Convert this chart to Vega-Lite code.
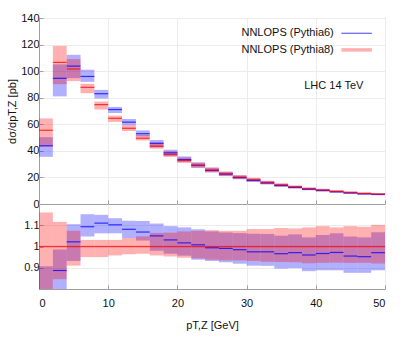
{
  "$schema": "https://vega.github.io/schema/vega-lite/v6.json",
  "autosize": {"type": "pad"},
  "padding": {"left": 6, "top": 11, "right": 5, "bottom": 5},
  "spacing": 0,
  "bounds": "flush",
  "config": {
    "font": "Liberation Sans",
    "view": {"stroke": "#a0a0a0", "strokeWidth": 1},
    "axis": {
      "labelFontSize": 11, "labelColor": "#111", "labelFont": "Liberation Sans",
      "titleFontSize": 11, "titleFontWeight": "normal", "titleColor": "#111", "titleFont": "Liberation Sans",
      "gridColor": "#ececec", "gridWidth": 1, "domainColor": "#a0a0a0", "tickColor": "#a0a0a0",
      "tickSize": -4, "labelPadding": 4, "labelOverlap": false
    }
  },
  "datasets": {
    "d": [
      {"series": "NNLOPS (Pythia6)", "x0": 0, "x1": 2, "c": 43.8, "lo": 35.5, "hi": 50.3, "rc": 0.79, "rlo": 0.64, "rhi": 0.907},
      {"series": "NNLOPS (Pythia6)", "x0": 2, "x1": 4, "c": 94.6, "lo": 81.0, "hi": 105.1, "rc": 0.887, "rlo": 0.76, "rhi": 0.986},
      {"series": "NNLOPS (Pythia6)", "x0": 4, "x1": 6, "c": 103.8, "lo": 94.7, "hi": 112.3, "rc": 1.022, "rlo": 0.932, "rhi": 1.105},
      {"series": "NNLOPS (Pythia6)", "x0": 6, "x1": 8, "c": 96.0, "lo": 91.9, "hi": 101.1, "rc": 1.093, "rlo": 1.047, "rhi": 1.152},
      {"series": "NNLOPS (Pythia6)", "x0": 8, "x1": 10, "c": 83.0, "lo": 79.4, "hi": 85.9, "rc": 1.110, "rlo": 1.062, "rhi": 1.149},
      {"series": "NNLOPS (Pythia6)", "x0": 10, "x1": 12, "c": 71.1, "lo": 68.5, "hi": 73.1, "rc": 1.102, "rlo": 1.062, "rhi": 1.133},
      {"series": "NNLOPS (Pythia6)", "x0": 12, "x1": 14, "c": 61.6, "lo": 59.3, "hi": 63.9, "rc": 1.081, "rlo": 1.040, "rhi": 1.121},
      {"series": "NNLOPS (Pythia6)", "x0": 14, "x1": 16, "c": 52.9, "lo": 50.9, "hi": 55.4, "rc": 1.068, "rlo": 1.028, "rhi": 1.120},
      {"series": "NNLOPS (Pythia6)", "x0": 16, "x1": 18, "c": 45.7, "lo": 42.6, "hi": 48.2, "rc": 1.050, "rlo": 0.980, "rhi": 1.108},
      {"series": "NNLOPS (Pythia6)", "x0": 18, "x1": 20, "c": 38.5, "lo": 36.0, "hi": 40.9, "rc": 1.031, "rlo": 0.966, "rhi": 1.096},
      {"series": "NNLOPS (Pythia6)", "x0": 20, "x1": 22, "c": 33.4, "lo": 31.4, "hi": 35.8, "rc": 1.017, "rlo": 0.957, "rhi": 1.090},
      {"series": "NNLOPS (Pythia6)", "x0": 22, "x1": 24, "c": 29.2, "lo": 27.2, "hi": 31.3, "rc": 1.008, "rlo": 0.938, "rhi": 1.081},
      {"series": "NNLOPS (Pythia6)", "x0": 24, "x1": 26, "c": 25.3, "lo": 23.8, "hi": 27.3, "rc": 0.994, "rlo": 0.932, "rhi": 1.071},
      {"series": "NNLOPS (Pythia6)", "x0": 26, "x1": 28, "c": 22.5, "lo": 21.0, "hi": 24.2, "rc": 0.991, "rlo": 0.926, "rhi": 1.066},
      {"series": "NNLOPS (Pythia6)", "x0": 28, "x1": 30, "c": 19.9, "lo": 18.6, "hi": 21.5, "rc": 0.985, "rlo": 0.919, "rhi": 1.063},
      {"series": "NNLOPS (Pythia6)", "x0": 30, "x1": 32, "c": 17.7, "lo": 16.6, "hi": 19.3, "rc": 0.975, "rlo": 0.910, "rhi": 1.060},
      {"series": "NNLOPS (Pythia6)", "x0": 32, "x1": 34, "c": 15.8, "lo": 14.7, "hi": 17.2, "rc": 0.975, "rlo": 0.909, "rhi": 1.059},
      {"series": "NNLOPS (Pythia6)", "x0": 34, "x1": 36, "c": 13.9, "lo": 12.9, "hi": 15.1, "rc": 0.966, "rlo": 0.896, "rhi": 1.051},
      {"series": "NNLOPS (Pythia6)", "x0": 36, "x1": 38, "c": 12.5, "lo": 11.6, "hi": 13.6, "rc": 0.971, "rlo": 0.898, "rhi": 1.057},
      {"series": "NNLOPS (Pythia6)", "x0": 38, "x1": 40, "c": 11.1, "lo": 10.3, "hi": 12.1, "rc": 0.960, "rlo": 0.884, "rhi": 1.043},
      {"series": "NNLOPS (Pythia6)", "x0": 40, "x1": 42, "c": 10.2, "lo": 9.3, "hi": 11.1, "rc": 0.967, "rlo": 0.888, "rhi": 1.054},
      {"series": "NNLOPS (Pythia6)", "x0": 42, "x1": 44, "c": 9.2, "lo": 8.4, "hi": 10.1, "rc": 0.972, "rlo": 0.888, "rhi": 1.062},
      {"series": "NNLOPS (Pythia6)", "x0": 44, "x1": 46, "c": 8.3, "lo": 7.6, "hi": 9.1, "rc": 0.955, "rlo": 0.876, "rhi": 1.047},
      {"series": "NNLOPS (Pythia6)", "x0": 46, "x1": 48, "c": 7.6, "lo": 7.0, "hi": 8.3, "rc": 0.952, "rlo": 0.876, "rhi": 1.043},
      {"series": "NNLOPS (Pythia6)", "x0": 48, "x1": 50, "c": 7.2, "lo": 6.6, "hi": 7.9, "rc": 0.971, "rlo": 0.888, "rhi": 1.067},
      {"series": "NNLOPS (Pythia8)", "x0": 0, "x1": 2, "c": 55.5, "lo": 43.3, "hi": 64.4, "rc": 1, "rlo": 0.78, "rhi": 1.16},
      {"series": "NNLOPS (Pythia8)", "x0": 2, "x1": 4, "c": 106.6, "lo": 90.2, "hi": 119.0, "rc": 1, "rlo": 0.846, "rhi": 1.116},
      {"series": "NNLOPS (Pythia8)", "x0": 4, "x1": 6, "c": 101.6, "lo": 92.5, "hi": 109.1, "rc": 1, "rlo": 0.910, "rhi": 1.074},
      {"series": "NNLOPS (Pythia8)", "x0": 6, "x1": 8, "c": 87.8, "lo": 83.4, "hi": 90.5, "rc": 1, "rlo": 0.950, "rhi": 1.031},
      {"series": "NNLOPS (Pythia8)", "x0": 8, "x1": 10, "c": 74.8, "lo": 71.1, "hi": 77.1, "rc": 1, "rlo": 0.950, "rhi": 1.031},
      {"series": "NNLOPS (Pythia8)", "x0": 10, "x1": 12, "c": 64.5, "lo": 61.8, "hi": 66.5, "rc": 1, "rlo": 0.958, "rhi": 1.031},
      {"series": "NNLOPS (Pythia8)", "x0": 12, "x1": 14, "c": 57.0, "lo": 54.9, "hi": 59.3, "rc": 1, "rlo": 0.963, "rhi": 1.040},
      {"series": "NNLOPS (Pythia8)", "x0": 14, "x1": 16, "c": 49.5, "lo": 47.8, "hi": 51.9, "rc": 1, "rlo": 0.966, "rhi": 1.048},
      {"series": "NNLOPS (Pythia8)", "x0": 16, "x1": 18, "c": 43.5, "lo": 41.7, "hi": 46.3, "rc": 1, "rlo": 0.958, "rhi": 1.064},
      {"series": "NNLOPS (Pythia8)", "x0": 18, "x1": 20, "c": 37.3, "lo": 35.5, "hi": 39.7, "rc": 1, "rlo": 0.953, "rhi": 1.065},
      {"series": "NNLOPS (Pythia8)", "x0": 20, "x1": 22, "c": 32.8, "lo": 31.1, "hi": 35.1, "rc": 1, "rlo": 0.947, "rhi": 1.071},
      {"series": "NNLOPS (Pythia8)", "x0": 22, "x1": 24, "c": 29.0, "lo": 27.4, "hi": 31.1, "rc": 1, "rlo": 0.944, "rhi": 1.074},
      {"series": "NNLOPS (Pythia8)", "x0": 24, "x1": 26, "c": 25.5, "lo": 23.9, "hi": 27.5, "rc": 1, "rlo": 0.938, "rhi": 1.077},
      {"series": "NNLOPS (Pythia8)", "x0": 26, "x1": 28, "c": 22.7, "lo": 21.2, "hi": 24.4, "rc": 1, "rlo": 0.935, "rhi": 1.074},
      {"series": "NNLOPS (Pythia8)", "x0": 28, "x1": 30, "c": 20.2, "lo": 18.9, "hi": 21.7, "rc": 1, "rlo": 0.935, "rhi": 1.074},
      {"series": "NNLOPS (Pythia8)", "x0": 30, "x1": 32, "c": 18.2, "lo": 17.0, "hi": 19.7, "rc": 1, "rlo": 0.932, "rhi": 1.082},
      {"series": "NNLOPS (Pythia8)", "x0": 32, "x1": 34, "c": 16.2, "lo": 15.0, "hi": 17.5, "rc": 1, "rlo": 0.928, "rhi": 1.082},
      {"series": "NNLOPS (Pythia8)", "x0": 34, "x1": 36, "c": 14.4, "lo": 13.3, "hi": 15.7, "rc": 1, "rlo": 0.927, "rhi": 1.087},
      {"series": "NNLOPS (Pythia8)", "x0": 36, "x1": 38, "c": 12.9, "lo": 11.9, "hi": 14.0, "rc": 1, "rlo": 0.926, "rhi": 1.085},
      {"series": "NNLOPS (Pythia8)", "x0": 38, "x1": 40, "c": 11.6, "lo": 10.7, "hi": 12.6, "rc": 1, "rlo": 0.921, "rhi": 1.090},
      {"series": "NNLOPS (Pythia8)", "x0": 40, "x1": 42, "c": 10.5, "lo": 9.7, "hi": 11.5, "rc": 1, "rlo": 0.923, "rhi": 1.096},
      {"series": "NNLOPS (Pythia8)", "x0": 42, "x1": 44, "c": 9.5, "lo": 8.8, "hi": 10.4, "rc": 1, "rlo": 0.924, "rhi": 1.090},
      {"series": "NNLOPS (Pythia8)", "x0": 44, "x1": 46, "c": 8.7, "lo": 8.0, "hi": 9.5, "rc": 1, "rlo": 0.923, "rhi": 1.096},
      {"series": "NNLOPS (Pythia8)", "x0": 46, "x1": 48, "c": 8.0, "lo": 7.4, "hi": 8.7, "rc": 1, "rlo": 0.923, "rhi": 1.093},
      {"series": "NNLOPS (Pythia8)", "x0": 48, "x1": 50, "c": 7.4, "lo": 6.8, "hi": 8.2, "rc": 1, "rlo": 0.920, "rhi": 1.102}
    ]
  },
  "vconcat": [
    {
      "width": 346,
      "height": 186,
      "layer": [
        {
          "data": {"name": "d"},
          "mark": {"type": "rect", "opacity": 0.31},
          "encoding": {
            "x": {"field": "x0", "type": "quantitative", "scale": {"domain": [0, 50], "nice": false},
                  "axis": {"values": [0, 10, 20, 30, 40, 50], "labels": false, "title": null}},
            "x2": {"field": "x1"},
            "y": {"field": "lo", "type": "quantitative", "scale": {"domain": [0, 140], "nice": false},
                  "axis": {"values": [0, 20, 40, 60, 80, 100, 120, 140], "title": "dσ/dpT,Z [pb]", "titlePadding": 3,
                           "labelOverlap": false, "tickCount": 8, "format": "d"}},
            "y2": {"field": "hi"},
            "color": {"field": "series", "type": "nominal", "legend": null,
                      "scale": {"domain": ["NNLOPS (Pythia6)", "NNLOPS (Pythia8)"], "range": ["#0000ff", "#ff0000"]}}
          }
        },
        {
          "data": {"name": "d"},
          "mark": {"type": "rule", "strokeWidth": 1.2, "opacity": 0.75},
          "encoding": {
            "x": {"field": "x0", "type": "quantitative"},
            "x2": {"field": "x1"},
            "y": {"field": "c", "type": "quantitative"},
            "color": {"field": "series", "type": "nominal", "legend": null}
          }
        },
        {
          "data": {"values": [{"label": "NNLOPS (Pythia6)"}]},
          "mark": {"type": "text", "align": "right", "baseline": "middle", "fontSize": 11, "fill": "#111"},
          "encoding": {"x": {"datum": 42.6}, "y": {"datum": 128.5}, "text": {"field": "label"}}
        },
        {
          "data": {"values": [{"label": "NNLOPS (Pythia8)"}]},
          "mark": {"type": "text", "align": "right", "baseline": "middle", "fontSize": 11, "fill": "#111"},
          "encoding": {"x": {"datum": 42.6}, "y": {"datum": 116}, "text": {"field": "label"}}
        },
        {
          "data": {"values": [{"label": "LHC 14 TeV"}]},
          "mark": {"type": "text", "align": "center", "baseline": "middle", "fontSize": 11, "fill": "#111"},
          "encoding": {"x": {"datum": 42.6}, "y": {"datum": 88.6}, "text": {"field": "label"}}
        },
        {
          "data": {"values": [{"label": "NNLOPS (Pythia6)"}]},
          "mark": {"type": "rule", "color": "#6060f0", "strokeWidth": 1.2},
          "encoding": {"x": {"datum": 43.7}, "x2": {"datum": 48.1}, "y": {"datum": 128.5}}
        },
        {
          "data": {"values": [{"label": "NNLOPS (Pythia8)"}]},
          "mark": {"type": "rule", "color": "#ffb0b0", "strokeWidth": 3.5},
          "encoding": {"x": {"datum": 43.7}, "x2": {"datum": 48.1}, "y": {"datum": 116}}
        }
      ]
    },
    {
      "width": 346,
      "height": 85,
      "data": {"name": "d"},
      "encoding": {
        "x": {"field": "x0", "type": "quantitative", "scale": {"domain": [0, 50], "nice": false},
              "axis": {"values": [0, 10, 20, 30, 40, 50], "title": "pT,Z [GeV]", "labelPadding": 12, "titlePadding": 11}},
        "x2": {"field": "x1"},
        "color": {"field": "series", "type": "nominal", "legend": null,
                  "scale": {"domain": ["NNLOPS (Pythia6)", "NNLOPS (Pythia8)"], "range": ["#0000ff", "#ff0000"]}}
      },
      "layer": [
        {
          "mark": {"type": "rect", "opacity": 0.31, "clip": true},
          "encoding": {
            "y": {"field": "rlo", "type": "quantitative", "scale": {"domain": [0.8, 1.2], "nice": false},
                  "axis": {"values": [0.9, 1, 1.1], "format": "~g", "title": null}},
            "y2": {"field": "rhi"}
          }
        },
        {
          "mark": {"type": "rule", "strokeWidth": 1.2, "opacity": 0.75, "clip": true},
          "encoding": {"y": {"field": "rc", "type": "quantitative"}}
        }
      ]
    }
  ]
}
